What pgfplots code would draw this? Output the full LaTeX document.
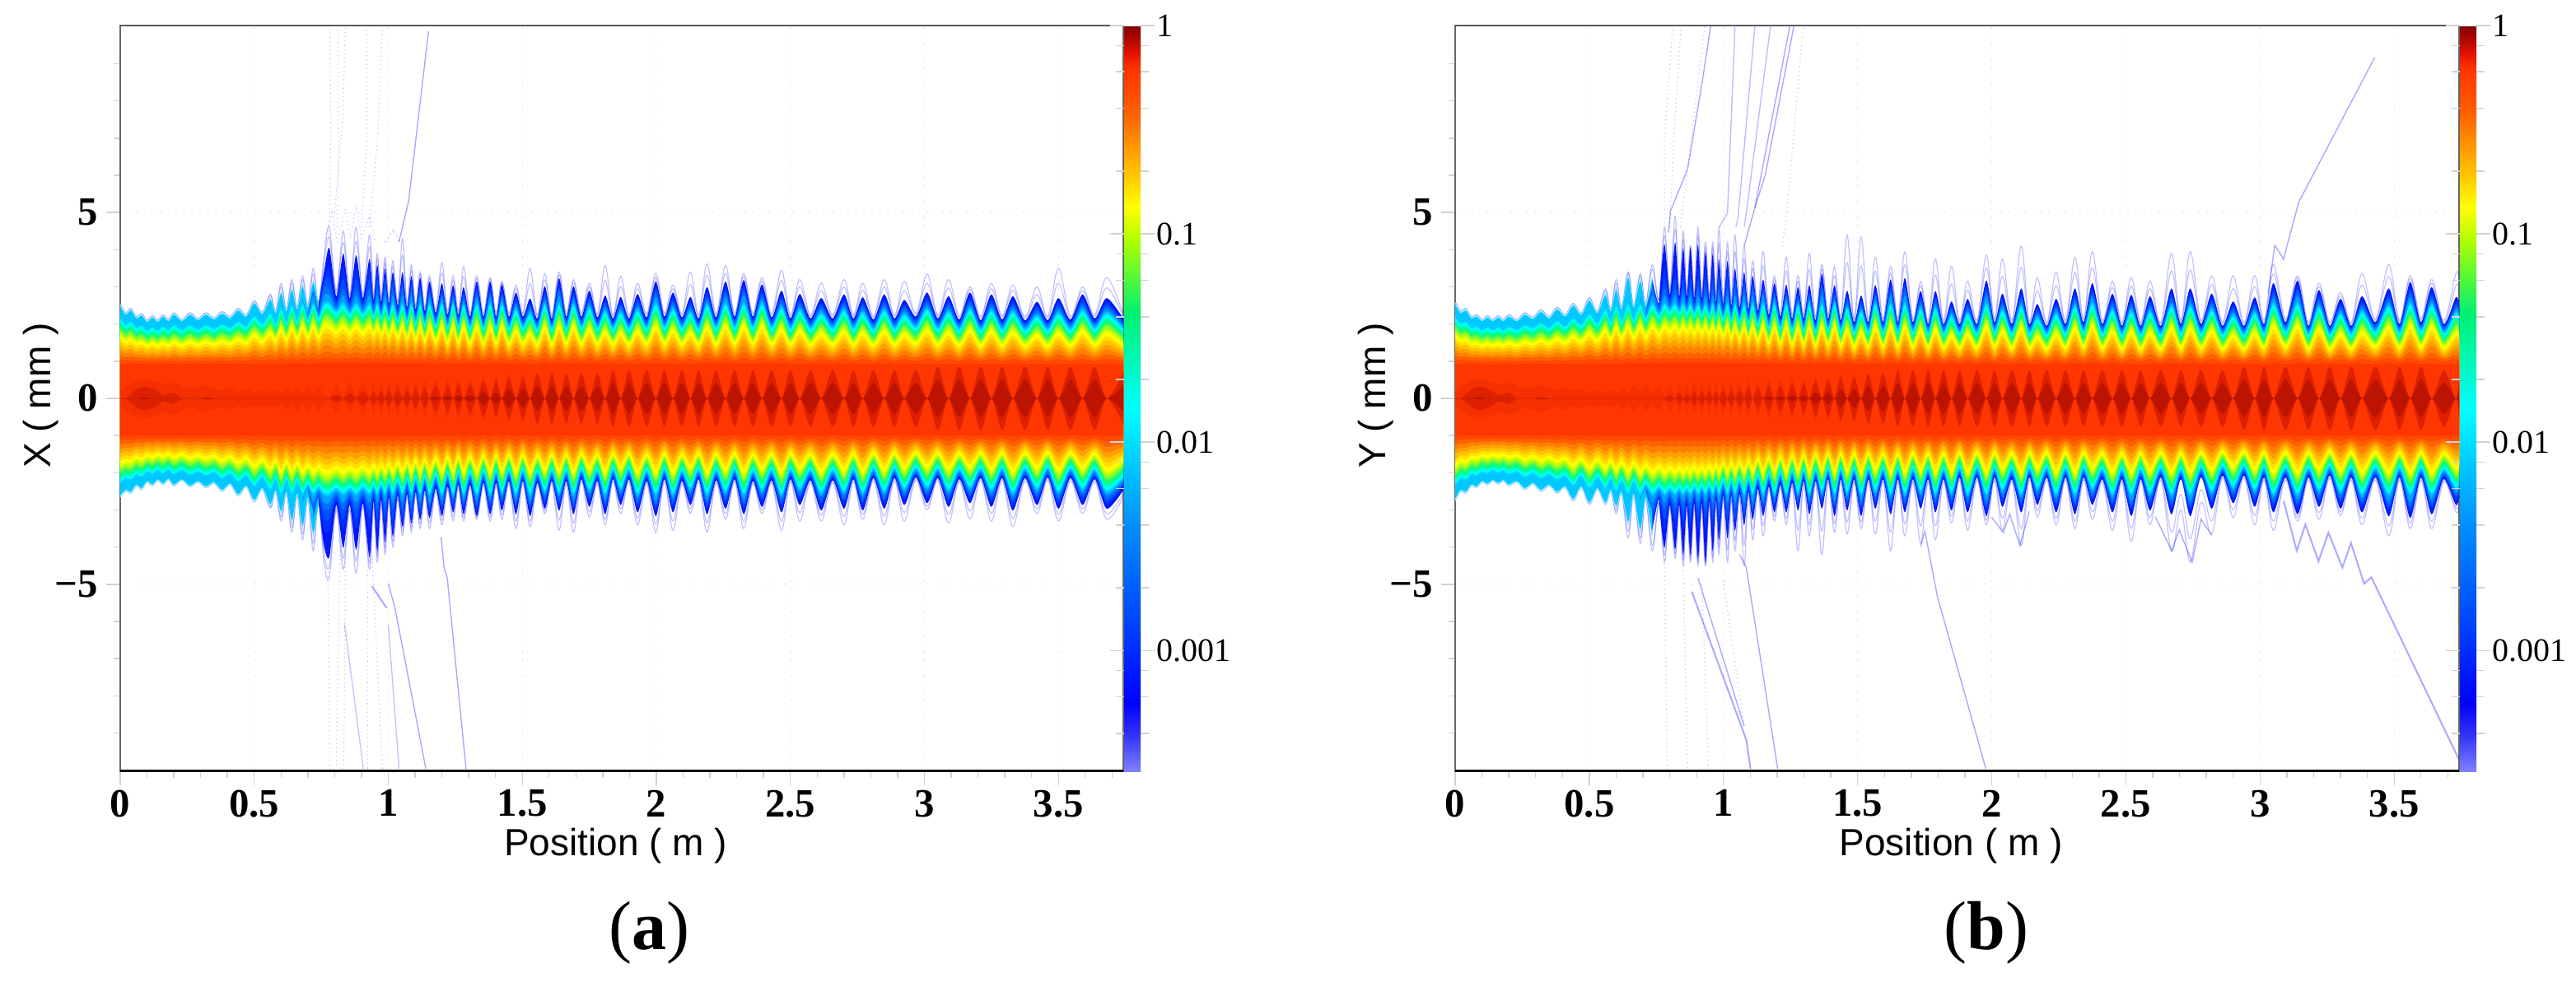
\documentclass[border=0pt]{standalone}
\usepackage{fontspec}
\setmainfont{Liberation Serif}
\setsansfont{Liberation Sans}
\usepackage{pgfplots}
\usepackage{pgfplotstable}
\pgfplotsset{compat=1.18}

% x = position (m), w/v = outer edge above/below, d = half height of the dark core,
% h/l = faint outlier envelope above/below
\pgfplotstableread{
x w v d h l
0.00 2.55 2.65 .20 2.55 2.65
0.02 2.30 2.50 .30 2.30 2.50
0.04 2.42 2.55 .36 2.42 2.55
0.06 2.20 2.35 .42 2.20 2.35
0.08 2.28 2.45 .46 2.28 2.45
0.10 2.10 2.25 .46 2.10 2.25
0.12 2.22 2.35 .44 2.22 2.35
0.14 2.10 2.20 .40 2.10 2.20
0.16 2.25 2.32 .34 2.25 2.32
0.18 2.12 2.18 .36 2.12 2.18
0.20 2.30 2.35 .38 2.30 2.35
0.23 2.12 2.20 .30 2.12 2.20
0.26 2.30 2.38 .22 2.30 2.38
0.29 2.15 2.25 .28 2.15 2.25
0.32 2.30 2.40 .32 2.30 2.40
0.35 2.17 2.28 .26 2.17 2.28
0.38 2.33 2.50 .20 2.33 2.50
0.41 2.20 2.32 .28 2.20 2.32
0.44 2.42 2.62 .18 2.42 2.62
0.47 2.25 2.38 .24 2.25 2.38
0.50 2.62 2.78 .15 2.62 2.78
0.53 2.32 2.45 .22 2.32 2.45
0.56 2.72 2.90 .15 2.80 2.95
0.58 2.35 2.50 .22 2.35 2.50
0.60 2.90 3.10 .15 3.10 3.30
0.62 2.40 2.55 .26 2.40 2.55
0.64 3.00 3.35 .15 3.20 3.60
0.66 2.45 2.60 .30 2.45 2.60
0.68 3.10 3.50 .15 3.30 3.80
0.70 2.50 2.70 .30 2.50 2.70
0.72 3.20 3.70 .15 3.50 4.10
0.74 2.55 2.80 .30 2.55 2.80
0.76 3.40 3.95 .10 3.80 4.40
0.780 4.05 4.25 .05 4.60 4.80
0.806 2.75 2.85 .35 2.90 3.00
0.832 3.90 4.00 .05 4.50 4.60
0.856 2.70 2.85 .38 2.80 3.00
0.880 3.85 4.05 .05 4.60 4.70
0.905 2.70 2.80 .40 2.80 2.90
0.930 3.75 4.25 .05 4.40 4.60
0.945 2.65 2.75 .40 2.75 2.90
0.959 3.60 4.10 .05 3.90 4.40
0.973 2.60 2.70 .40 2.70 2.80
0.988 3.50 3.85 .05 3.80 4.20
1.002 2.55 2.65 .42 2.65 2.75
1.017 3.40 3.70 .05 3.70 4.00
1.035 2.50 2.60 .42 2.60 2.70
1.053 3.40 3.45 .05 4.30 3.70
1.070 2.45 2.55 .42 2.55 2.65
1.086 3.30 3.35 .05 3.60 3.60
1.102 2.40 2.50 .45 2.50 2.60
1.119 3.25 3.25 .05 3.40 3.50
1.136 2.35 2.45 .45 2.45 2.55
1.154 3.15 3.20 0 3.30 3.50
1.177 2.30 2.40 .48 2.40 2.50
1.200 3.10 3.15 0 3.65 3.40
1.221 2.25 2.35 .48 2.35 2.45
1.242 3.05 3.05 0 3.30 3.30
1.261 2.25 2.30 .50 2.35 2.40
1.281 3.00 3.10 0 3.55 3.30
1.305 2.20 2.30 .50 2.30 2.40
1.330 3.15 3.15 0 3.30 3.25
1.355 2.20 2.25 .55 2.30 2.35
1.380 3.15 3.10 0 3.25 3.30
1.402 2.20 2.25 .55 2.30 2.35
1.424 3.07 3.00 0 3.15 3.25
1.450 2.20 2.20 .60 2.30 2.30
1.476 2.85 3.10 0 3.05 3.50
1.502 2.20 2.20 .60 2.30 2.30
1.529 2.69 3.15 0 3.49 3.45
1.556 2.15 2.25 .65 2.25 2.35
1.584 3.02 2.95 0 3.36 3.10
1.610 2.15 2.20 .65 2.25 2.30
1.637 3.24 3.00 0 3.40 3.55
1.664 2.20 2.20 .65 2.30 2.30
1.691 3.02 3.10 0 3.20 3.60
1.720 2.20 2.15 .65 2.30 2.25
1.750 2.90 2.90 0 3.10 3.20
1.780 2.18 2.20 .65 2.28 2.30
1.809 2.77 3.10 0 3.57 3.40
1.838 2.15 2.15 .70 2.25 2.25
1.867 2.73 2.85 0 3.28 3.10
1.898 2.15 2.15 .70 2.25 2.25
1.930 2.81 3.05 0 3.10 3.40
1.964 2.18 2.20 .70 2.28 2.30
1.998 3.15 3.15 0 3.36 3.60
2.030 2.20 2.15 .70 2.30 2.25
2.062 2.85 3.05 0 3.05 3.55
2.095 2.18 2.20 .70 2.28 2.30
2.127 2.73 2.85 0 3.40 3.10
2.158 2.15 2.15 .70 2.25 2.25
2.189 3.00 3.10 0 3.62 3.60
2.223 2.18 2.18 .70 2.28 2.28
2.258 3.15 2.95 0 3.57 3.25
2.292 2.20 2.15 .70 2.30 2.25
2.326 3.19 3.10 0 3.36 3.50
2.360 2.20 2.20 .70 2.30 2.30
2.394 3.07 2.90 0 3.25 3.10
2.430 2.18 2.18 .70 2.28 2.28
2.467 2.90 3.05 0 3.45 3.55
2.500 2.15 2.15 .70 2.25 2.25
2.535 2.81 2.85 0 3.20 3.30
2.575 2.15 2.18 .70 2.25 2.28
2.615 2.70 3.00 0 3.10 3.30
2.658 2.15 2.18 .70 2.25 2.28
2.700 2.80 2.95 0 3.20 3.40
2.735 2.15 2.15 .70 2.25 2.25
2.770 2.72 3.00 0 3.10 3.25
2.810 2.12 2.12 .70 2.22 2.22
2.850 2.80 2.95 0 3.20 3.40
2.888 2.15 2.12 .70 2.25 2.22
2.925 2.65 2.85 0 3.15 3.30
2.968 2.20 2.10 .70 2.30 2.20
3.010 2.85 2.80 0 3.35 3.00
3.050 2.15 2.12 .75 2.25 2.22
3.090 2.75 2.90 0 3.20 3.35
3.130 2.12 2.15 .75 2.22 2.25
3.170 2.85 2.80 0 3.00 3.25
3.210 2.10 2.12 .75 2.20 2.22
3.250 2.80 2.90 0 3.10 3.30
3.290 2.12 2.12 .75 2.22 2.22
3.330 2.75 3.00 0 3.05 3.45
3.375 2.10 2.12 .75 2.20 2.22
3.420 2.60 2.85 0 3.00 3.10
3.460 2.10 2.10 .75 2.20 2.20
3.500 2.70 2.95 0 3.50 3.30
3.545 2.12 2.12 .75 2.22 2.22
3.590 2.80 2.85 0 3.00 3.10
3.635 2.15 2.15 .75 2.25 2.25
3.680 2.70 2.95 0 3.25 3.25
3.742 2.15 2.45 .65 2.25 2.65
}\tabX

\pgfplotstableread{
x w v d h l
0.00 2.60 2.75 .20 2.60 2.75
0.02 2.35 2.50 .30 2.35 2.50
0.04 2.42 2.55 .36 2.42 2.55
0.06 2.20 2.35 .42 2.20 2.35
0.08 2.25 2.40 .46 2.25 2.40
0.10 2.12 2.25 .46 2.12 2.25
0.12 2.22 2.32 .44 2.22 2.32
0.14 2.12 2.22 .40 2.12 2.22
0.16 2.22 2.30 .34 2.22 2.30
0.18 2.12 2.22 .36 2.12 2.22
0.20 2.25 2.35 .38 2.25 2.35
0.23 2.12 2.25 .30 2.12 2.25
0.26 2.30 2.45 .22 2.30 2.45
0.29 2.18 2.30 .28 2.18 2.30
0.32 2.38 2.50 .32 2.38 2.50
0.35 2.20 2.35 .26 2.20 2.35
0.38 2.45 2.55 .20 2.45 2.55
0.41 2.25 2.40 .28 2.25 2.40
0.44 2.55 2.75 .18 2.55 2.75
0.47 2.30 2.40 .24 2.30 2.40
0.50 2.70 2.85 .15 2.70 2.85
0.53 2.35 2.45 .22 2.35 2.45
0.56 2.85 2.85 .15 2.95 2.85
0.58 2.40 2.50 .22 2.40 2.50
0.60 3.00 2.95 .15 3.20 3.10
0.62 2.45 2.55 .26 2.45 2.55
0.645 3.35 3.40 .15 3.40 3.75
0.665 2.50 2.60 .30 2.50 2.60
0.69 3.25 3.60 .15 3.35 3.90
0.71 2.55 2.70 .30 2.55 2.70
0.735 3.35 3.80 .15 3.60 4.10
0.76 2.65 2.80 .30 2.65 2.80
0.780 4.15 4.00 .05 4.60 4.40
0.800 2.80 2.85 .35 2.90 2.95
0.820 4.20 4.05 .05 4.90 4.30
0.835 2.75 2.85 .38 2.85 2.95
0.850 4.05 4.20 .05 4.50 4.50
0.863 2.75 2.85 .38 2.85 2.95
0.877 4.05 4.20 .05 4.10 4.40
0.891 2.70 2.80 .40 2.80 2.90
0.905 4.15 4.30 .05 4.60 4.50
0.919 2.70 2.80 .40 2.80 2.90
0.933 3.95 4.40 .05 4.20 4.50
0.947 2.65 2.75 .40 2.75 2.85
0.960 3.90 4.10 .05 4.20 4.40
0.972 2.60 2.70 .40 2.70 2.80
0.983 3.75 3.80 .05 4.60 4.20
0.999 2.55 2.60 .42 2.65 2.70
1.015 3.70 3.75 .05 4.20 4.40
1.029 2.50 2.60 .42 2.60 2.70
1.043 3.50 3.55 .05 4.40 4.10
1.060 2.45 2.55 .42 2.55 2.65
1.077 3.40 3.40 .05 4.10 4.50
1.093 2.40 2.50 .45 2.50 2.60
1.109 3.30 3.25 0 3.70 3.80
1.128 2.35 2.40 .45 2.45 2.50
1.148 3.20 3.15 0 3.95 3.70
1.169 2.25 2.35 .48 2.35 2.45
1.190 3.10 3.05 0 3.30 3.30
1.212 2.20 2.30 .48 2.30 2.40
1.234 3.06 3.05 0 3.80 3.40
1.256 2.15 2.25 .50 2.25 2.35
1.278 3.00 3.00 0 3.30 4.10
1.299 2.15 2.20 .50 2.25 2.30
1.320 3.05 3.10 0 3.90 3.70
1.343 2.10 2.20 .55 2.20 2.30
1.367 3.36 2.95 0 3.60 4.20
1.390 2.15 2.15 .55 2.25 2.25
1.414 3.05 3.15 0 3.55 3.60
1.437 2.10 2.15 .60 2.20 2.25
1.461 2.90 3.00 0 4.40 3.65
1.487 2.05 2.15 .60 2.15 2.25
1.513 2.77 3.15 0 4.35 3.50
1.540 2.05 2.15 .65 2.15 2.25
1.566 3.05 2.95 0 3.80 3.65
1.595 2.05 2.15 .65 2.15 2.25
1.623 3.20 3.10 0 3.55 4.10
1.650 2.05 2.15 .70 2.15 2.25
1.676 3.24 3.05 0 3.95 3.70
1.706 2.05 2.15 .70 2.15 2.25
1.735 2.89 2.95 0 3.15 3.90
1.763 2.00 2.15 .70 2.10 2.25
1.790 2.89 3.05 0 3.75 3.80
1.820 2.00 2.15 .70 2.10 2.25
1.850 2.61 3.00 0 3.55 3.35
1.880 2.00 2.10 .70 2.10 2.20
1.910 2.68 3.05 0 3.15 3.55
1.945 2.00 2.10 .70 2.10 2.20
1.980 3.17 3.15 0 3.85 3.40
2.010 2.05 2.10 .70 2.15 2.20
2.040 2.82 2.90 0 3.75 3.55
2.075 2.00 2.15 .70 2.10 2.25
2.110 2.96 3.05 0 4.10 3.95
2.140 2.00 2.10 .70 2.10 2.20
2.170 2.54 2.85 0 3.25 3.20
2.205 1.95 2.10 .70 2.05 2.20
2.240 2.68 3.05 0 3.40 3.40
2.275 2.00 2.10 .70 2.10 2.20
2.310 2.96 3.10 0 3.80 3.50
2.342 2.05 2.10 .70 2.15 2.20
2.375 3.10 2.85 0 3.95 3.25
2.412 2.00 2.15 .70 2.10 2.25
2.450 2.82 3.05 0 3.15 3.55
2.485 1.95 2.15 .70 2.05 2.25
2.520 2.79 3.15 0 3.25 3.85
2.555 1.95 2.15 .70 2.05 2.25
2.590 2.75 3.00 0 3.15 3.40
2.630 1.95 2.10 .70 2.05 2.20
2.670 2.96 3.10 0 3.90 4.10
2.705 2.00 2.15 .70 2.10 3.00
2.740 2.96 3.15 0 3.95 4.40
2.780 2.00 2.10 .70 2.10 2.80
2.820 2.82 2.95 0 3.30 3.65
2.860 1.95 2.05 .70 2.05 2.15
2.900 2.61 2.80 0 3.30 3.20
2.940 1.95 2.05 .75 2.05 2.15
2.980 2.72 2.90 0 3.30 3.40
3.015 2.00 2.10 .75 2.10 2.20
3.050 3.10 3.05 0 3.60 3.55
3.095 2.05 2.10 .75 2.15 2.20
3.140 3.17 3.10 0 3.30 3.30
3.180 1.95 2.10 .75 2.05 2.20
3.220 2.92 2.90 0 3.10 3.25
3.260 1.95 2.05 .75 2.05 2.15
3.300 2.68 2.95 0 2.85 3.15
3.340 1.95 2.10 .75 2.05 2.20
3.380 2.75 3.05 0 3.35 3.40
3.430 2.05 2.10 .75 2.15 2.20
3.480 2.96 3.15 0 3.60 3.70
3.520 2.00 2.10 .75 2.10 2.20
3.560 3.13 3.20 0 3.30 3.50
3.600 2.05 2.10 .75 2.15 2.20
3.640 3.00 3.10 0 3.20 3.50
3.685 2.00 2.15 .70 2.10 2.25
3.730 2.72 2.85 0 3.35 3.05
3.742 2.55 2.65 .60 3.25 2.90
}\tabY

% colour bar: position in pt = 100*(log10(value)+3.58)
\pgfplotsset{
  colormap={beam}{
    rgb255(0pt)=(128,128,255);
    rgb255(18pt)=(48,48,248);
    rgb255(33pt)=(0,0,255);
    rgb255(69pt)=(0,64,255);
    rgb255(119pt)=(0,144,255);
    rgb255(174pt)=(0,255,255);
    rgb255(220pt)=(0,240,112);
    rgb255(255pt)=(176,255,0);
    rgb255(271pt)=(255,255,0);
    rgb255(288pt)=(255,192,0);
    rgb255(316pt)=(255,96,0);
    rgb255(338pt)=(255,51,0);
    rgb255(345pt)=(224,16,0);
    rgb255(358pt)=(128,0,0)
  }
}

\pgfplotsset{
  beam axis/.style={
    scale only axis,
    anchor=south west,
    height=226.5pt,
    xmin=0, xmax=3.742,
    ymin=-10.03, ymax=10.03,
    xtick={0,0.5,1,1.5,2,2.5,3,3.5},
    xticklabels={0,0.5,1,1.5,2,2.5,3,3.5},
    minor xtick={0.1,0.2,0.3,0.4,0.6,0.7,0.8,0.9,1.1,1.2,1.3,1.4,1.6,1.7,1.8,1.9,2.1,2.2,2.3,2.4,2.6,2.7,2.8,2.9,3.1,3.2,3.3,3.4,3.6,3.7},
    ytick={-5,0,5},
    yticklabels={−5,0,5},
    minor ytick={-9,-8,-7,-6,-4,-3,-2,-1,1,2,3,4,6,7,8,9},
    xtick pos=bottom, ytick pos=left,
    tick align=outside,
    major tick length=4.25pt, minor tick length=2pt,
    tick style={draw=black!18, line width=0.35pt},
    grid=major,
    grid style={dotted, draw=black!12, line width=0.25pt},
    axis line style={draw=black!60, line width=0.5pt},
    tick label style={font=\fontsize{12.2}{14}\selectfont\bfseries},
    xticklabel style={yshift=2.1pt},
    yticklabel style={xshift=0.9pt},
    label style={font=\fontsize{11.5}{14}\selectfont\sffamily},
    ylabel style={at={(axis description cs:-0.0788,0.504)}, anchor=center, rotate=0},
    colormap name=beam,
    colorbar,
    point meta min=-3.58, point meta max=0,
    colorbar shift/.style={xshift=0pt},
    colorbar style={
      width=5pt,
      axis line style={draw=none},
      ytick={0,-1,-2,-3},
      yticklabels={1,0.1,0.01,0.001},
      minor ytick={-0.097,-0.222,-0.398,-0.699,-1.097,-1.222,-1.398,-1.699,-2.097,-2.222,-2.398,-2.699,-3.097,-3.222,-3.398},
      tick align=outside,
      major tick length=4.25pt, minor tick length=2.5pt,
      tick style={draw=black!18, line width=0.35pt},
      yticklabel style={font=\fontsize{10}{11}\selectfont, xshift=-3pt},
    },
  },
  band/.style={draw=none, smooth, tension=0.45, forget plot},
  stray/.style={draw=blue!75!white, line width=0.35pt, opacity=0.45, forget plot},
  faint/.style={draw=blue!60!white, line width=0.3pt, densely dotted, opacity=0.4, forget plot},
  halo/.style={draw=blue!80!white, line width=0.3pt, opacity=0.3, smooth, tension=0.6, forget plot},
}

% [options]{table}{colour}{base}{slope}{cap}; the lower half sits a little further out
\newcommand{\band}[6][]{%
  \addplot[band, fill=#3, #1] table[x=x, y expr={#4+#5*(min(\thisrow{w},#6)-2.4)}]{#2} \closedcycle;
  \addplot[band, fill=#3, #1] table[x=x, y expr={-(#4+0.07+#5*(min(\thisrow{v},#6)-2.45))}]{#2} \closedcycle;
}
% {table}{colour}{gain}{threshold}: the higher the threshold, the narrower the lobes
\newcommand{\core}[4]{%
  \addplot[band, fill=#2] table[x=x, y expr={max(0,#3*(\thisrow{d}-#4))}]{#1} \closedcycle;
  \addplot[band, fill=#2] table[x=x, y expr={-max(0,#3*(\thisrow{d}-#4))}]{#1} \closedcycle;
}
\newcommand{\beam}[1]{%
  \addplot[halo] table[x=x, y=h]{#1};
  \addplot[halo] table[x=x, y expr={-\thisrow{l}}]{#1};
  \addplot[halo] table[x=x, y expr={(\thisrow{w}+\thisrow{h})/2}]{#1};
  \addplot[halo] table[x=x, y expr={-(\thisrow{v}+\thisrow{l})/2}]{#1};
  \band[restrict x to domain=0:0.745]{#1}{cA0E8FF}{2.4}{1}{9}
  \band[restrict x to domain=0:0.745]{#1}{c00C8FF}{2.34}{0.95}{9}
  \band[restrict x to domain=0.74:4]{#1}{c0018F8}{2.4}{1}{9}
  \band[restrict x to domain=0.73:4]{#1}{c0030FF}{2.32}{0.92}{3.7}
  \band[restrict x to domain=0.72:4]{#1}{c0050FF}{2.27}{0.86}{3.5}
  \band[restrict x to domain=0.70:4]{#1}{c0070FF}{2.22}{0.82}{3.3}
  \band[restrict x to domain=0.68:4]{#1}{c00A0FF}{2.15}{0.78}{3.2}
  \band{#1}{c00D0FF}{2.09}{0.76}{3.05}
  \band{#1}{c00FFFF}{2.03}{0.74}{3.05}
  \band{#1}{c00FFC0}{1.97}{0.72}{3.05}
  \band{#1}{c00FF80}{1.91}{0.7}{3.05}
  \band{#1}{c30F860}{1.85}{0.68}{3.05}
  \band{#1}{c70F840}{1.79}{0.66}{3.05}
  \band{#1}{cA8FC10}{1.73}{0.64}{3.05}
  \band{#1}{cD8FF00}{1.67}{0.61}{3.05}
  \band{#1}{cFFFF00}{1.61}{0.58}{3.05}
  \band{#1}{cFFE000}{1.52}{0.52}{3.05}
  \band{#1}{cFFC000}{1.43}{0.46}{3.05}
  \band{#1}{cFFA000}{1.33}{0.38}{3.05}
  \band{#1}{cFF8000}{1.23}{0.3}{3.05}
  \band{#1}{cFF6000}{1.13}{0.18}{3.05}
  \band{#1}{cFF4800}{1.03}{0.1}{3.05}
  \band{#1}{cFF3600}{0.93}{0.03}{3.05}
  \core{#1}{cF43000}{1.1}{0}
  \core{#1}{cDC2000}{1.9}{0.3}
  \core{#1}{cBC1400}{1.7}{0.45}
}
\definecolor{cA0E8FF}{HTML}{A0E8FF}
\definecolor{c00C8FF}{HTML}{00C8FF}
\definecolor{c0018F8}{HTML}{0018F8}
\definecolor{c0030FF}{HTML}{0030FF}
\definecolor{c0050FF}{HTML}{0050FF}
\definecolor{c0070FF}{HTML}{0070FF}
\definecolor{c00A0FF}{HTML}{00A0FF}
\definecolor{c00D0FF}{HTML}{00D0FF}
\definecolor{c00FFFF}{HTML}{00FFFF}
\definecolor{c00FFC0}{HTML}{00FFC0}
\definecolor{c00FF80}{HTML}{00FF80}
\definecolor{c30F860}{HTML}{30F860}
\definecolor{c70F840}{HTML}{70F840}
\definecolor{cA8FC10}{HTML}{A8FC10}
\definecolor{cD8FF00}{HTML}{D8FF00}
\definecolor{cFFFF00}{HTML}{FFFF00}
\definecolor{cFFE000}{HTML}{FFE000}
\definecolor{cFFC000}{HTML}{FFC000}
\definecolor{cFFA000}{HTML}{FFA000}
\definecolor{cFF8000}{HTML}{FF8000}
\definecolor{cFF6000}{HTML}{FF6000}
\definecolor{cFF4800}{HTML}{FF4800}
\definecolor{cFF3600}{HTML}{FF3600}
\definecolor{cF43000}{HTML}{F43000}
\definecolor{cDC2000}{HTML}{DC2000}
\definecolor{cBC1400}{HTML}{BC1400}

\begin{document}
\begin{tikzpicture}
\path[use as bounding box] (0,0) rectangle (782pt,298pt);

\begin{axis}[beam axis, at={(36.5pt,63.75pt)}, width=304.5pt,
    xlabel={Position ( m )}, ylabel={X ( mm )},
    xlabel style={at={(axis description cs:0.494,-0.1004)}, anchor=center}]
  \beam{\tabX}
  % lost particles, upward
  \addplot[stray] coordinates {(1.04,4.21)(1.076,5.31)(1.15,9.88)};
  \addplot[stray, densely dotted, opacity=0.4] coordinates {(0.99,4.2)(1.02,4.55)(1.04,4.21)};
  \addplot[faint] coordinates {(0.78,4.4)(0.785,7)(0.783,10)};
  \addplot[faint] coordinates {(0.81,4.6)(0.815,7)(0.812,10)};
  \addplot[faint] coordinates {(0.90,4.6)(0.92,7)(0.92,10)};
  \addplot[faint] coordinates {(0.93,4.6)(0.96,7)(0.978,10)};
  \addplot[faint] coordinates {(0.80,5)(0.83,7.5)(0.84,10)};
  \addplot[faint] coordinates {(0.76,4.2)(0.79,5)(0.81,4.2)(0.84,5.1)(0.86,4.3)(0.88,5.2)(0.90,4.3)(0.93,4.9)(0.95,4.2)};
  % lost particles, downward
  \addplot[stray] coordinates {(1.00,-4.98)(1.025,-5.64)(1.14,-9.96)};
  \addplot[stray] coordinates {(1.197,-3.72)(1.208,-4.54)(1.22,-4.83)(1.29,-9.96)};
  \addplot[stray, line width=0.5pt] coordinates {(0.939,-5.05)(0.994,-5.64)};
  \addplot[stray, opacity=0.3] coordinates {(0.837,-6.08)(0.907,-9.96)};
  \addplot[stray, opacity=0.3] coordinates {(1.00,-6.08)(1.04,-9.96)};
  \addplot[faint] coordinates {(0.774,-4.09)(0.782,-9.96)};
  \addplot[faint] coordinates {(0.82,-4.09)(0.806,-9.96)};
  \addplot[faint] coordinates {(0.84,-4.3)(0.834,-9.96)};
  \addplot[faint] coordinates {(0.923,-4.4)(0.923,-9.96)};
  \addplot[faint] coordinates {(0.94,-4.3)(0.978,-9.96)};
  \draw[black, line width=0.9pt] (rel axis cs:0,0) -- (rel axis cs:1,0);
  \draw[black!70, line width=0.7pt] (rel axis cs:0,1) -- (rel axis cs:1,1);
\end{axis}

\begin{axis}[beam axis, at={(441.75pt,63.75pt)}, width=304.75pt,
    xlabel={Position ( m )}, ylabel={Y ( mm )},
    xlabel style={at={(axis description cs:0.494,-0.1004)}, anchor=center}]
  \beam{\tabY}
  % lost particles, upward
  \addplot[stray] coordinates {(0.795,4.46)(0.803,5.05)(0.866,6.16)(0.921,8.52)(0.952,10)};
  \addplot[stray, opacity=0.35] coordinates {(0.984,4.61)(1.015,4.98)(1.043,9.99)};
  \addplot[stray, opacity=0.35] coordinates {(1.046,4.61)(1.054,4.83)(1.117,10)};
  \addplot[stray, opacity=0.35] coordinates {(1.077,4.61)(1.085,4.98)(1.175,10)};
  \addplot[stray] coordinates {(1.077,4.09)(1.117,5.13)(1.247,10)};
  \addplot[stray] coordinates {(1.117,5.13)(1.156,6.01)(1.262,10)};
  \addplot[faint] coordinates {(1.219,4.09)(1.234,4.83)(1.297,10)};
  \addplot[faint] coordinates {(0.78,4.6)(0.78,7)(0.811,10)};
  \addplot[faint] coordinates {(0.80,4.6)(0.815,7)(0.842,10)};
  \addplot[faint] coordinates {(0.84,4.6)(0.88,7)(0.93,10)};
  \addplot[stray] coordinates {(3.03,2.82)(3.055,4.12)(3.088,3.74)(3.10,4.09)(3.145,5.29)(3.428,9.18)};
  % lost particles, downward
  \addplot[stray, line width=0.5pt] coordinates {(0.882,-5.2)(1.085,-9.18)(1.101,-9.96)};
  \addplot[stray] coordinates {(0.905,-4.83)(1.077,-8.81)};
  \addplot[stray] coordinates {(1.06,-4.2)(1.085,-4.54)(1.202,-9.96)};
  \addplot[stray] coordinates {(1.735,-3.98)(1.751,-3.58)(1.798,-5.35)(1.978,-9.96)};
  \addplot[faint] coordinates {(0.78,-4.2)(0.79,-9.96)};
  \addplot[faint] coordinates {(0.85,-4.5)(0.866,-9.96)};
  \addplot[faint] coordinates {(0.92,-5)(0.944,-9.96)};
  \addplot[faint] coordinates {(0.999,-4.9)(1.077,-8.8)};
  \addplot[stray] coordinates {(2.61,-3.18)(2.671,-4.1)(2.699,-3.54)(2.747,-4.41)(2.78,-3.25)(2.82,-3.68)};
  \addplot[stray] coordinates {(2.00,-3.2)(2.043,-3.61)(2.067,-3.11)(2.105,-3.96)(2.14,-3.04)};
  \addplot[stray, line width=0.5pt] coordinates {(3.088,-2.76)(3.137,-4.1)(3.169,-3.39)(3.218,-4.38)(3.255,-3.61)(3.307,-4.55)(3.339,-3.89)(3.388,-4.98)(3.415,-4.81)(3.744,-9.75)};
  \draw[black, line width=0.9pt] (rel axis cs:0,0) -- (rel axis cs:1,0);
  \draw[black!70, line width=0.7pt] (rel axis cs:0,1) -- (rel axis cs:1,1);
\end{axis}

\node[font=\fontsize{21}{24}\selectfont] at (197pt,14.8pt) {(\textbf{a})};
\node[font=\fontsize{21}{24}\selectfont] at (603pt,14.8pt) {(\textbf{b})};
\end{tikzpicture}
\end{document}
